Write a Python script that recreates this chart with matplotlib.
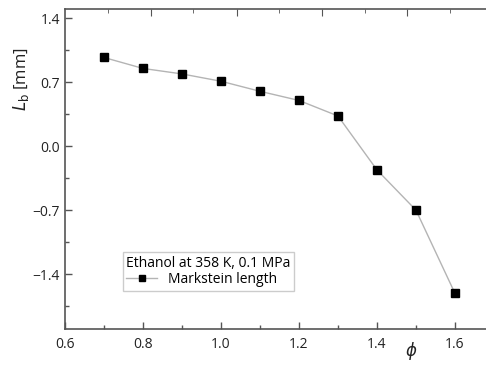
import matplotlib.pyplot as plt
from matplotlib.ticker import MultipleLocator, FixedLocator

plt.rcParams["font.family"] = ["Open Sans", "DejaVu Sans"]
plt.rcParams["mathtext.fontset"] = "dejavusans"

# equivalence ratio and Markstein length
phi = [0.7, 0.8, 0.9, 1.0, 1.1, 1.2, 1.3, 1.4, 1.5, 1.6]
markstein = [0.97, 0.85, 0.79, 0.71, 0.60, 0.50, 0.33, -0.26, -0.70, -1.61]

x_ticks = [0.6, 0.8, 1.0, 1.2, 1.4, 1.6]
y_ticks = [-1.4, -0.7, 0.0, 0.7, 1.4]

spine_col = "#555555"

fig = plt.figure(figsize=(4.86, 3.65), dpi=100)
ax = fig.add_axes([0.1337, 0.0986, 0.8827, 0.8767])

ax.plot(phi, markstein, color="#b4b4b4", lw=1.0, marker="s",
        ms=6, mfc="black", mec="black", label="Markstein length")

ax.set_xlim(0.6, 1.7)
ax.set_ylim(-2.0, 1.5)
ax.set_xticks(x_ticks)
ax.set_xticklabels([f"{v:.1f}" for v in x_ticks])
ax.set_yticks(y_ticks)
ax.set_yticklabels([f"{v:.1f}".replace("-", "\u2212") for v in y_ticks])
ax.xaxis.set_minor_locator(MultipleLocator(0.1))
ax.yaxis.set_minor_locator(MultipleLocator(0.35))

ax.tick_params(which="both", direction="in", colors=spine_col,
               labelcolor="#222222", labelsize=10, width=1.0)
ax.tick_params(which="major", length=5)
ax.tick_params(which="minor", length=3)
ax.tick_params(axis="x", pad=6)

for side in ["left", "bottom", "top"]:
    ax.spines[side].set_color(spine_col)
    ax.spines[side].set_linewidth(1.2)
ax.spines["right"].set_visible(False)

# top axis ticks (no labels)
top = ax.secondary_xaxis("top")
top.xaxis.set_major_locator(FixedLocator([0.8205, 1.041, 1.259, 1.477]))
top.xaxis.set_minor_locator(FixedLocator([0.710, 0.928, 1.149, 1.369, 1.587]))
top.tick_params(which="both", direction="in", colors=spine_col, labeltop=False)
top.tick_params(which="major", length=5)
top.tick_params(which="minor", length=3)
top.spines["top"].set_visible(False)

ax.set_ylabel("$L_\\mathrm{b}$ [mm]", fontsize=12, color="#222222")
ax.yaxis.set_label_coords(-0.08, 0.78)
ax.set_xlabel("$\\phi$", fontsize=12, color="#222222")
ax.xaxis.set_label_coords(0.806, -0.035)

leg = ax.legend(title="Ethanol at 358 K, 0.1 MPa", loc="upper left",
                bbox_to_anchor=(0.135, 0.24), borderaxespad=0,
                fontsize=10, title_fontsize=10, fancybox=False,
                edgecolor="#cccccc", framealpha=1, alignment="left",
                handlelength=2.2, borderpad=0.25, labelspacing=0.1,
                handletextpad=0.8, markerscale=0.8)
leg.get_frame().set_linewidth(1.0)

fig.savefig("out.png", dpi=100)
